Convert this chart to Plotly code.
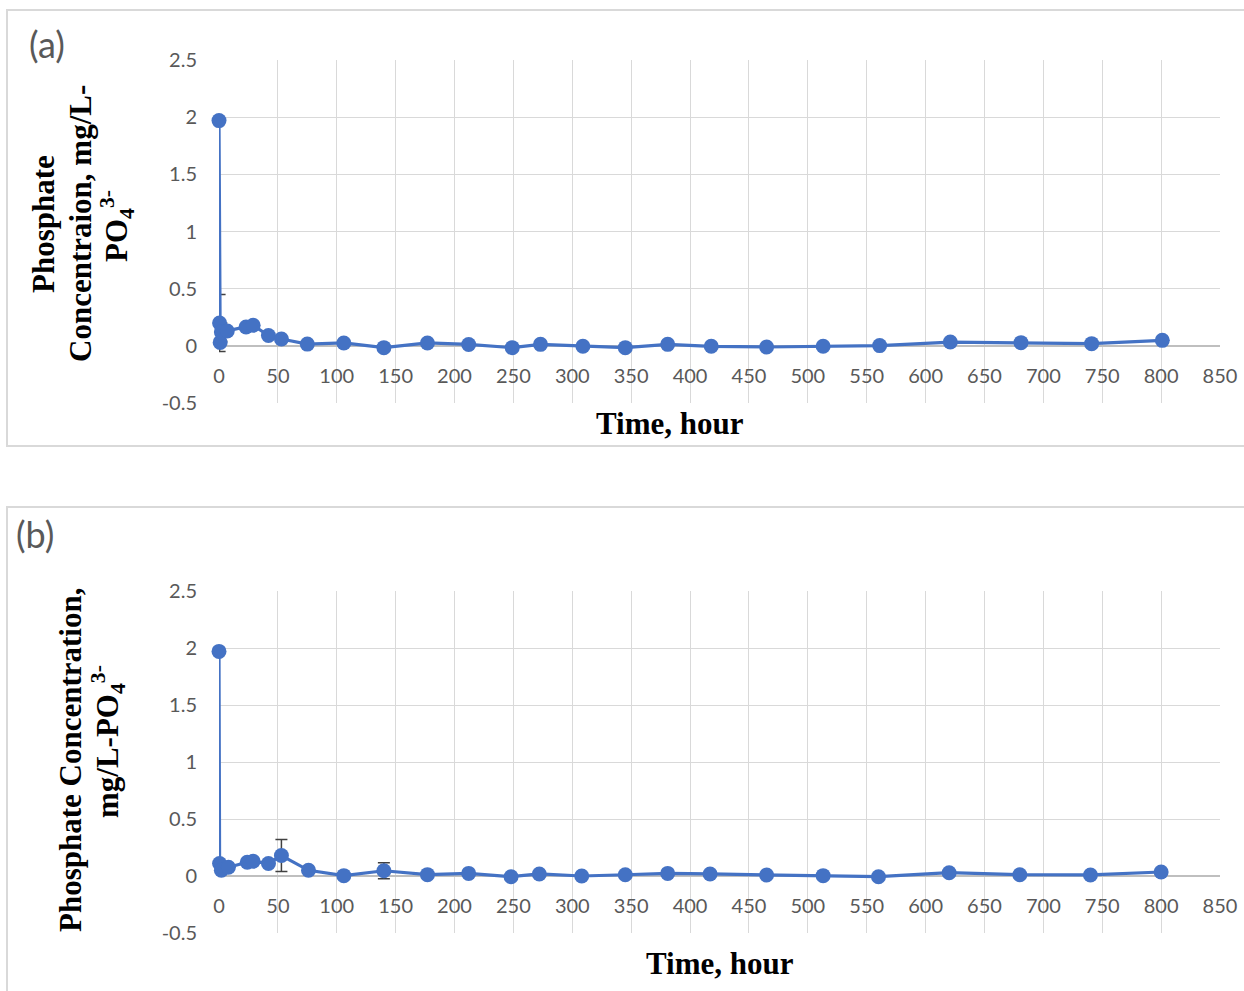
import plotly.graph_objects as go

W, H = 1244, 991

# ---- data: panel (a) ----
time_a = [0, 0.5, 1, 2, 7, 23, 29, 42, 53, 75, 106, 140, 177, 212, 249, 273,
          309, 345, 381, 418, 465, 513, 561, 621, 681, 741, 801]
conc_a = [1.97, 0.20, 0.03, 0.12, 0.13, 0.165, 0.18, 0.09, 0.06, 0.015, 0.025,
          -0.016, 0.025, 0.012, -0.016, 0.013, -0.004, -0.016, 0.013, -0.004,
          -0.01, -0.004, 0.002, 0.033, 0.028, 0.019, 0.048]
err_a = [0, 0.25, 0, 0.08, 0, 0, 0, 0, 0, 0, 0, 0, 0, 0, 0, 0,
         0, 0, 0, 0, 0, 0, 0, 0, 0, 0, 0]

# ---- data: panel (b) ----
time_b = [0, 0.5, 2, 8, 24, 29, 42, 53, 76, 106, 140, 177, 212, 248, 272,
          308, 345, 381, 417, 465, 513, 560, 620, 680, 740, 800]
conc_b = [1.97, 0.11, 0.05, 0.077, 0.12, 0.13, 0.11, 0.18, 0.05, 0.003, 0.046,
          0.012, 0.023, -0.006, 0.018, 0.0, 0.011, 0.023, 0.018, 0.009, 0.003,
          -0.006, 0.029, 0.011, 0.009, 0.035]
err_b = [0, 0, 0, 0, 0, 0, 0, 0.14, 0, 0, 0.07, 0, 0, 0, 0,
         0, 0, 0, 0, 0, 0, 0, 0, 0, 0, 0]

# ---- axis ticks ----
x_ticks = list(range(0, 851, 50))
y_ticks = [-0.5, 0, 0.5, 1, 1.5, 2, 2.5]
y_tick_text = ["-0.5", "0", "0.5", "1", "1.5", "2", "2.5"]
x_range = [0, 850]
y_range = [-0.5, 2.5]

BLUE = "#4472C4"
GRID = "#D9D9D9"
TICK_COL = "#595959"
TICK_FONT = dict(family="Lato", size=20, color=TICK_COL)
TITLE_FONT = dict(family="Liberation Serif", size=31, color="black")


def px_x(v):
    return v / W


def px_y(v):
    return 1 - v / H


# plot-area rectangles in pixels: (left, top, right, bottom)
areas = {"a": (219, 60, 1220, 403), "b": (219, 591, 1220, 933)}

fig = go.Figure()

panels = [
    ("a", "x", "y", time_a, conc_a, err_a),
    ("b", "x2", "y2", time_b, conc_b, err_b),
]

for key, xa, ya, t, c, e in panels:
    # error bars sit underneath and are clipped to the plot area
    fig.add_trace(go.Scatter(
        x=t, y=c, mode="markers", xaxis=xa, yaxis=ya,
        marker=dict(color="rgba(0,0,0,0)", size=1),
        error_y=dict(type="data", array=e, visible=True, color="#404040",
                     thickness=1.5, width=6),
        cliponaxis=True, hoverinfo="skip", showlegend=False,
    ))
    fig.add_trace(go.Scatter(
        x=t, y=c, mode="lines+markers", xaxis=xa, yaxis=ya,
        line=dict(color=BLUE, width=3.2),
        marker=dict(color=BLUE, size=15),
        cliponaxis=False, showlegend=False,
    ))

layout_axes = {}
for i, key in enumerate(["a", "b"]):
    l, t_, r, b = areas[key]
    ydom = [px_y(b), px_y(t_)]
    xdom = [px_x(l), px_x(r)]
    # horizontal axis sits at y = 0
    zero_pos = ydom[0] + (0 - y_range[0]) / (y_range[1] - y_range[0]) * (ydom[1] - ydom[0])
    suffix = "" if i == 0 else "2"
    layout_axes["xaxis" + suffix] = dict(
        domain=xdom, range=x_range, tickvals=x_ticks,
        showgrid=True, gridcolor=GRID, gridwidth=1,
        zeroline=False, showline=False,
        anchor="free", position=zero_pos,
        ticks="", tickfont=TICK_FONT, ticklabelstandoff=16,
        automargin=False, fixedrange=True,
    )
    layout_axes["yaxis" + suffix] = dict(
        domain=ydom, range=y_range, tickvals=y_ticks, ticktext=y_tick_text,
        showgrid=True, gridcolor=GRID, gridwidth=1,
        zeroline=True, zerolinecolor="#BFBFBF", zerolinewidth=1.5,
        showline=False, anchor="x" + suffix,
        ticks="", tickfont=TICK_FONT, ticklabelstandoff=21,
        automargin=False, fixedrange=True,
    )

fig.update_layout(
    width=W, height=H,
    margin=dict(l=0, r=0, t=0, b=0, autoexpand=False),
    paper_bgcolor="white", plot_bgcolor="white",
    showlegend=False,
    **layout_axes,
)

# outer frames of the two panels
frame = dict(type="rect", xref="paper", yref="paper",
             line=dict(color=GRID, width=2), fillcolor="rgba(0,0,0,0)", layer="below")
fig.add_shape(x0=px_x(7), x1=px_x(1260), y0=px_y(446), y1=px_y(10), **frame)
fig.add_shape(x0=px_x(7), x1=px_x(1260), y0=px_y(1010), y1=px_y(507), **frame)

annotations = [
    # panel letters
    dict(x=px_x(47), y=px_y(44), text="(a)",
         font=dict(family="Lato", size=36, color=TICK_COL)),
    dict(x=px_x(35), y=px_y(534), text="(b)",
         font=dict(family="Lato", size=36, color=TICK_COL)),
    # x titles
    dict(x=px_x(670), y=px_y(424), text="<b>Time, hour</b>", font=TITLE_FONT),
    dict(x=px_x(720), y=px_y(963), text="<b>Time, hour</b>", font=TITLE_FONT),
    # y title of panel (a), one rotated line each
    dict(x=px_x(43), y=px_y(224), textangle=-90,
         text="<b>Phosphate</b>", font=TITLE_FONT),
    dict(x=px_x(80), y=px_y(224), textangle=-90,
         text="<b>Concentraion, mg/L-</b>", font=TITLE_FONT),
    dict(x=px_x(117), y=px_y(226), textangle=-90,
         text="<b>PO<sub>4</sub><sup>3-</sup></b>", font=TITLE_FONT),
    # y title of panel (b)
    dict(x=px_x(70), y=px_y(760), textangle=-90,
         text="<b>Phosphate Concentration,</b>", font=TITLE_FONT),
    dict(x=px_x(108), y=px_y(742), textangle=-90,
         text="<b>mg/L-PO<sub>4</sub><sup>3-</sup></b>", font=TITLE_FONT),
]
for a in annotations:
    fig.add_annotation(xref="paper", yref="paper", showarrow=False,
                       xanchor="center", yanchor="middle", **a)

fig.write_html("out.html")
